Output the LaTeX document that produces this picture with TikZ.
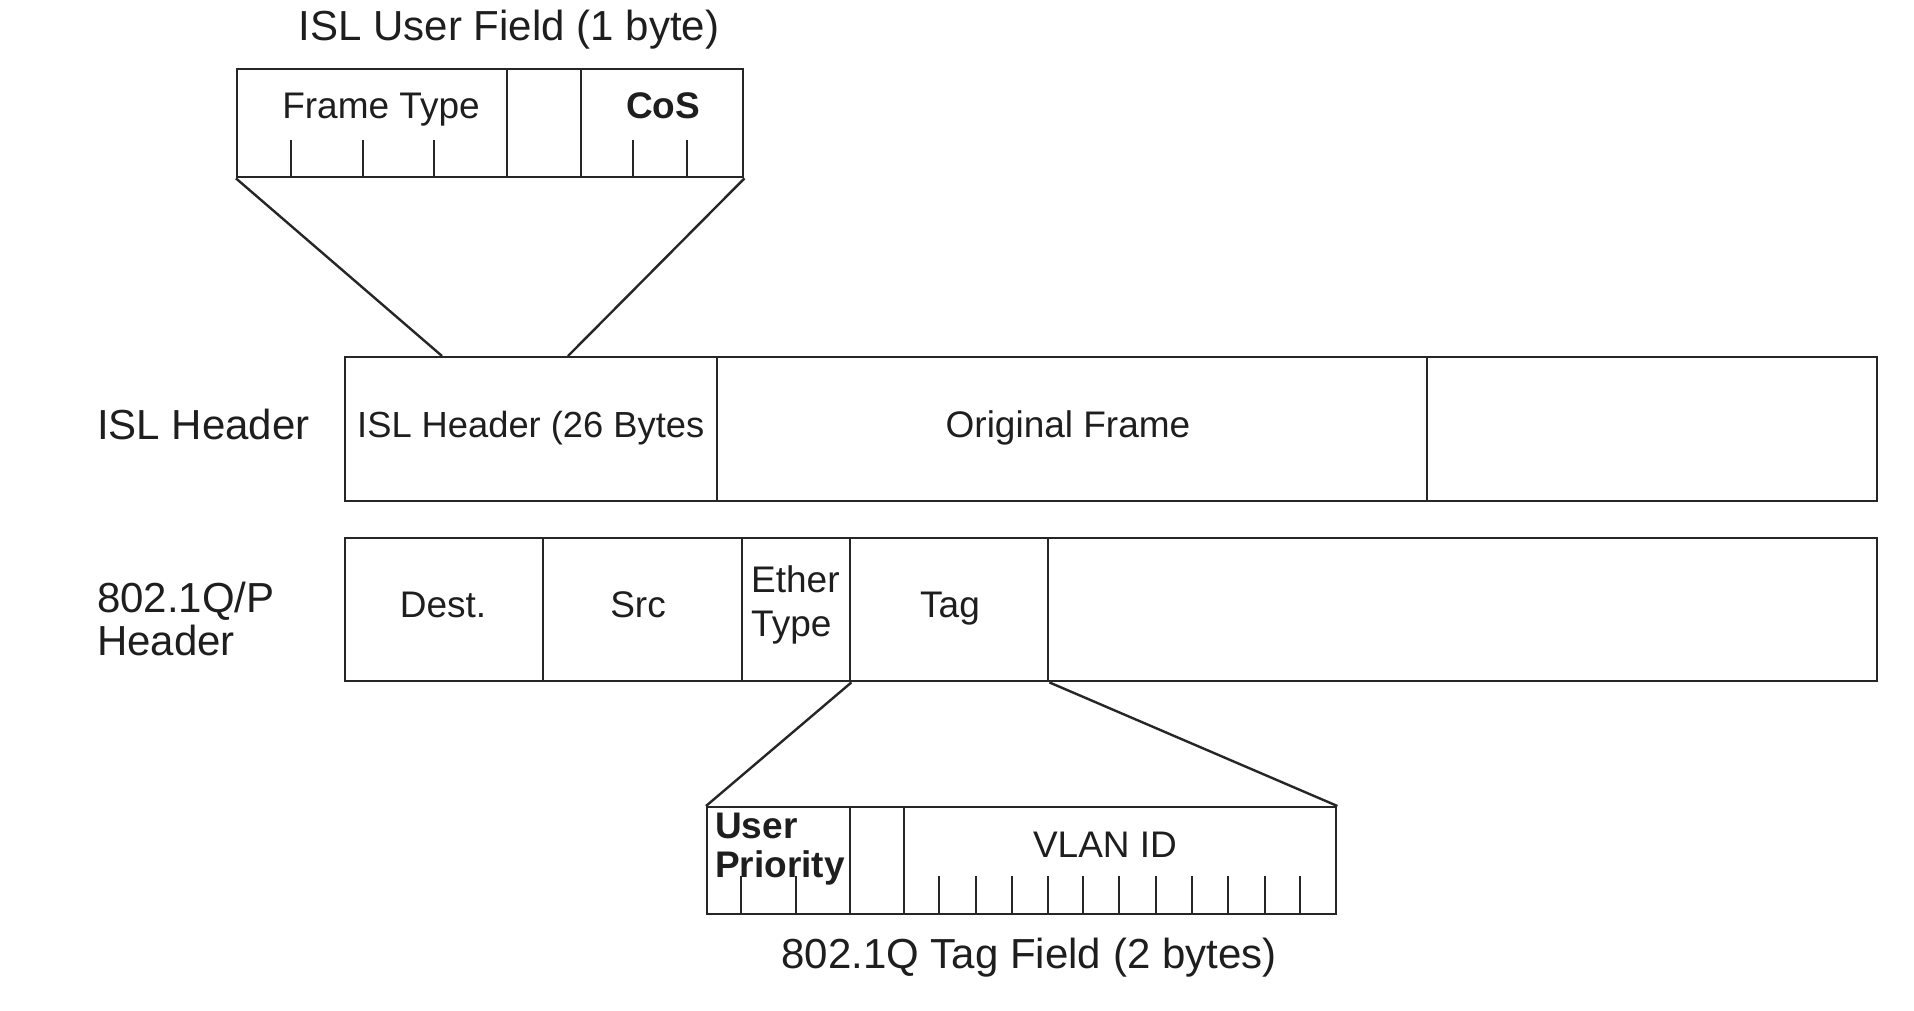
\documentclass[tikz,border=0pt]{standalone}
\usepackage{fontspec}
\setmainfont{Liberation Sans}
\definecolor{lc}{HTML}{262626}
\definecolor{tc}{HTML}{1E1E1E}
\begin{document}
\begin{tikzpicture}[x=1pt,y=-1pt,line width=2.4pt,
  fld/.style 2 args={draw=lc,inner sep=0pt,anchor=north west,minimum width=#1,minimum height=#2},
  txt/.style={text=tc,inner sep=0pt,font=\fontsize{37}{40}\selectfont},
  big/.style={text=tc,inner sep=0pt,font=\fontsize{42}{46}\selectfont},
  bld/.style={text=tc,inner sep=0pt,font=\fontsize{37}{40}\selectfont\bfseries},
  tick/.style={draw=lc,line width=2.2pt}]
\useasboundingbox[fill=white] (0,0) rectangle (1914,1010);

% ISL user field
\node[fld={270pt}{108pt}] (ft) at (236,68) {};
\node[fld={74pt}{108pt}] (ub) at (506,68) {};
\node[fld={162pt}{108pt}] (cos) at (580,68) {};
\foreach \x in {291,363,434,633,687} \draw[tick] (\x,140) -- (\x,176);
\node[big,anchor=base] (ttop) at (509,40) {ISL User Field (1 byte)};
\node[txt,anchor=base] (tft) at (381,118) {Frame Type};
\node[bld,anchor=base] (tcos) at (663,118) {CoS};

% ISL header row
\node[fld={372pt}{144pt}] (islh) at (344,356) {};
\node[fld={710pt}{144pt}] (orig) at (716,356) {};
\node[fld={450pt}{144pt}] (rest1) at (1426,356) {};
\node[big,anchor=base west] (lisl) at (96,439) {ISL Header};
\node[txt,anchor=base west,font=\fontsize{36.3}{40}\selectfont] (tislh) at (356,437) {ISL Header (26 Bytes};
\node[txt,anchor=base] (torig) at (1068,437) {Original Frame};

\coordinate (c1) at (442,356);
\coordinate (c2) at (568,356);
\draw[lc] (ft.south west) -- (c1);
\draw[lc] (cos.south east) -- (c2);

% 802.1Q row
\node[fld={198pt}{143pt}] (dest) at (344,537) {};
\node[fld={199pt}{143pt}] (src) at (542,537) {};
\node[fld={108pt}{143pt}] (eth) at (741,537) {};
\node[fld={198pt}{143pt}] (tag) at (849,537) {};
\node[fld={829pt}{143pt}] (rest2) at (1047,537) {};
\node[big,anchor=base west] (lq1) at (96,612) {802.1Q/P};
\node[big,anchor=base west] (lq2) at (96,655) {Header};
\node[txt,anchor=base] (tdest) at (443,617) {Dest.};
\node[txt,anchor=base] (tsrc) at (638,617) {Src};
\node[txt,anchor=base west] (teth1) at (750,592) {Ether};
\node[txt,anchor=base west] (teth2) at (750,636) {Type};
\node[txt,anchor=base] (ttag) at (950,617) {Tag};

% 802.1Q tag field
\node[fld={143pt}{107pt}] (up) at (706,806) {};
\node[fld={54pt}{107pt}] (cfi) at (849,806) {};
\node[fld={432pt}{107pt}] (vlan) at (903,806) {};
\foreach \x in {741,796,939,976,1012,1048,1083,1119,1156,1192,1228,1265,1300} \draw[tick] (\x,876) -- (\x,913);
\node[bld,anchor=base west] (tup1) at (714,838) {User};
\node[bld,anchor=base west] (tup2) at (714,877) {Priority};
\node[txt,anchor=base] (tvlan) at (1105,857) {VLAN ID};
\node[big,anchor=base] (tbot) at (1029,968) {802.1Q Tag Field (2 bytes)};

\draw[lc] (eth.south east) -- (up.north west);
\draw[lc] (tag.south east) -- (vlan.north east);
\end{tikzpicture}
\end{document}
